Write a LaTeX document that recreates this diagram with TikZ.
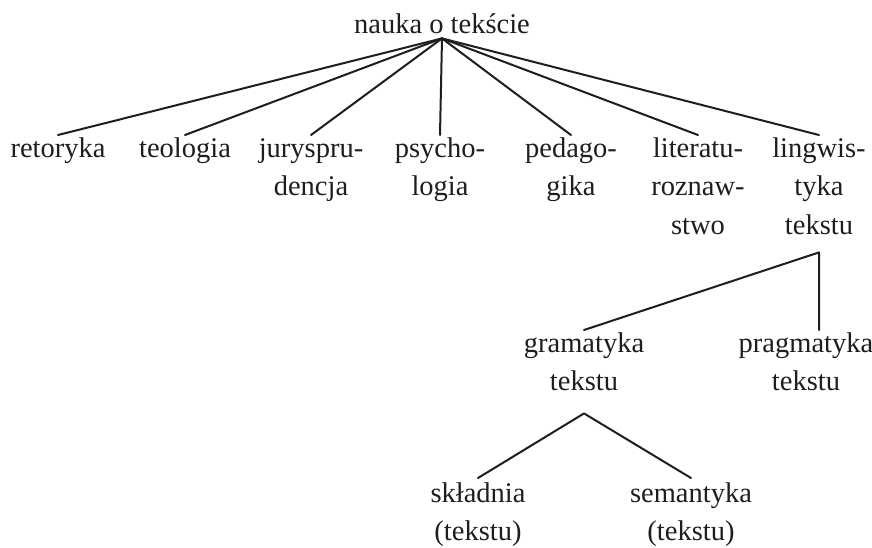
\documentclass[tikz,border=0pt]{standalone}
\usepackage{fontspec}
\setmainfont{Liberation Serif}
\newcommand\fsz{\fontsize{28.5}{38.5}\selectfont}
\definecolor{ink}{HTML}{1E1E1E}
\begin{document}
\begin{tikzpicture}[x=1pt,y=-1pt,
  lbl/.style={inner sep=0pt,align=center,font=\fsz,text=ink,anchor=north},
  edge/.style={draw=ink,line width=2pt,line cap=round,line join=round}]
\useasboundingbox (0,0) rectangle (872,547);
\fill[white] (0,0) rectangle (872,547);
\node[lbl] (root) at (442,6) {\strut nauka o tekście};
\node[lbl] (ret) at (58,130) {\strut retoryka};
\node[lbl] (teo) at (185,130) {\strut teologia};
\node[lbl] (jur) at (311,130) {\strut juryspru-\\dencja\strut};
\node[lbl] (psy) at (440,130) {\strut psycho-\\logia\strut};
\node[lbl] (ped) at (571,130) {\strut pedago-\\gika\strut};
\node[lbl] (lit) at (698,130) {\strut literatu-\\roznaw-\\stwo\strut};
\node[lbl] (lin) at (819,130) {\strut lingwis-\\tyka\\tekstu\strut};
\node[lbl] (gra) at (584,325) {\strut gramatyka\\tekstu\strut};
\node[lbl] (pra) at (806,325) {\strut pragmatyka\\tekstu\strut};
\node[lbl] (skl) at (478,475) {\strut składnia\\(tekstu)\strut};
\node[lbl] (sem) at (691,475) {\strut semantyka\\(tekstu)\strut};
\foreach \c in {ret,teo,jur,psy,ped,lit,lin}
  \draw[edge] ([yshift=6.5pt]root.south) -- ([yshift=-5pt]\c.north);
\coordinate (praT) at ([yshift=-5pt]pra.north);
\draw[edge] ([yshift=-5pt]gra.north) -- ([yshift=-6.5pt]lin.south) -- (lin.south |- praT);
\draw[edge] ([yshift=-3pt]skl.north) -- ([yshift=-11pt]gra.south) -- ([yshift=-3pt]sem.north);
\end{tikzpicture}
\end{document}
